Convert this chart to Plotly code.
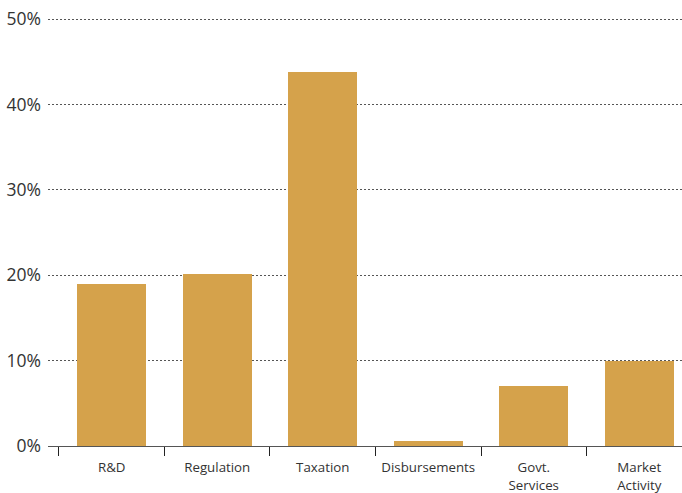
import plotly.graph_objects as go

categories = ["R&D", "Regulation", "Taxation", "Disbursements", "Govt.<br>Services", "Market<br>Activity"]
values = [19.0, 20.1, 43.8, 0.6, 7.0, 10.0]
y_ticks = [0, 10, 20, 30, 40, 50]
y_tick_text = ["0%", "10%", "20%", "30%", "40%", "50%"]

positions = list(range(len(categories)))
boundaries = [p - 0.5 for p in positions] + [len(categories) - 0.5]

FONT = "Open Sans"

fig = go.Figure()
fig.add_trace(go.Bar(
    x=positions, y=values, width=0.655,
    marker=dict(color="#D5A24B", line=dict(width=0)),
    hoverinfo="skip", showlegend=False,
))
fig.add_trace(go.Scatter(x=[boundaries[0]], y=[0], xaxis="x2", mode="markers",
                         marker=dict(opacity=0), showlegend=False, hoverinfo="skip"))

xr = [-0.604, 5.405]
fig.update_layout(
    width=682, height=493,
    margin=dict(l=48, r=0, t=18, b=47),
    paper_bgcolor="white", plot_bgcolor="white",
    bargap=0,
    xaxis=dict(
        range=xr, tickvals=positions, ticktext=categories,
        ticks="", showgrid=False, zeroline=False, showline=False,
        ticklabelstandoff=12,
        tickfont=dict(family=FONT, size=13.3, color="#333"),
        fixedrange=True,
    ),
    xaxis2=dict(
        range=xr, overlaying="x", side="bottom", tickvals=boundaries,
        ticks="outside", ticklen=9, tickwidth=1.2, tickcolor="#222",
        showticklabels=False, showgrid=False, zeroline=False, showline=False,
        anchor="y",
    ),
    yaxis=dict(
        range=[0, 50.12], tickvals=y_ticks, ticktext=y_tick_text,
        showgrid=True, gridcolor="#555", griddash="2px,2px", gridwidth=1,
        zeroline=True, zerolinecolor="#555", zerolinewidth=1.2,
        showline=False, ticks="", ticklabelstandoff=6,
        tickfont=dict(family=FONT, size=17.5, color="#333"),
        fixedrange=True,
    ),
)
fig.write_html("out.html")
